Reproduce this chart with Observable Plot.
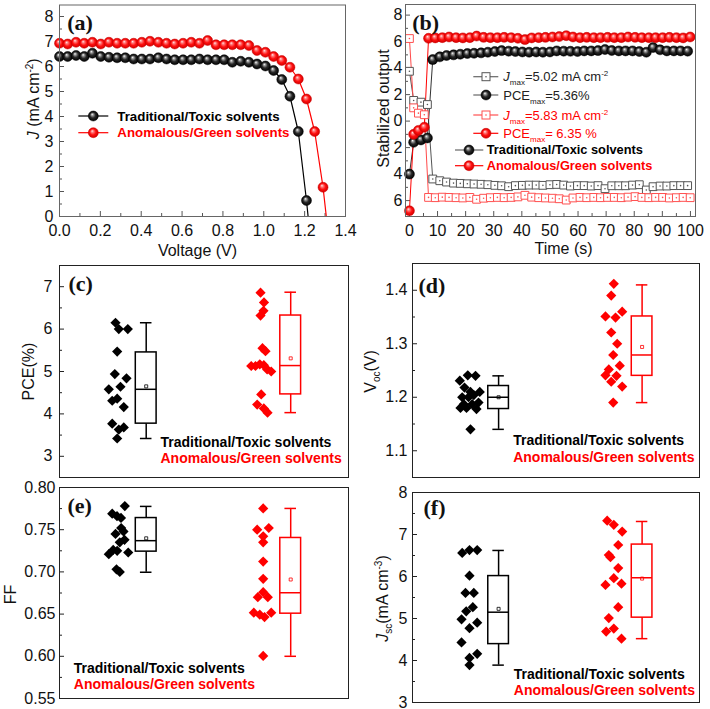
<!DOCTYPE html>
<html><head><meta charset="utf-8">
<script src="https://cdn.jsdelivr.net/npm/d3@7"></script>
<script src="https://cdn.jsdelivr.net/npm/@observablehq/plot@0.6"></script>
<style>
html,body{margin:0;padding:0;background:#fff;}
#chart{position:relative;width:710px;height:709px;overflow:hidden;font-family:'Liberation Sans',Arial,sans-serif;}
.panel{position:absolute;}
</style></head><body>
<svg width="0" height="0" style="position:absolute">
<defs>
<radialGradient id="ballK" cx="0.5" cy="0.5" r="0.5" fx="0.38" fy="0.32">
<stop offset="0" stop-color="#ffffff"/><stop offset="0.22" stop-color="#9a9a9a"/><stop offset="0.55" stop-color="#2a2a2a"/><stop offset="1" stop-color="#000000"/>
</radialGradient>
<radialGradient id="ballR" cx="0.5" cy="0.5" r="0.5" fx="0.38" fy="0.32">
<stop offset="0" stop-color="#ffeaea"/><stop offset="0.25" stop-color="#ff7a7a"/><stop offset="0.6" stop-color="#ff1010"/><stop offset="1" stop-color="#d00000"/>
</radialGradient>
</defs></svg>
<div id="chart"></div>
<script>
// ---------------- shared categories ----------------
const groups = ["Traditional/Toxic solvents", "Anomalous/Green solvents"];
const groupColors = ["#000000", "#ff0000"];
const groupCenter = [1, 3.5];
const boxOffset = 0.5;

// ---------------- (a) J-V curves ----------------
const aVoltage = [0, 0.04, 0.081, 0.121, 0.161, 0.202, 0.242, 0.282, 0.322, 0.363, 0.403, 0.443, 0.484, 0.524, 0.564, 0.605, 0.645, 0.685, 0.725, 0.766, 0.806, 0.846, 0.887, 0.927, 0.967, 1.008, 1.048, 1.088, 1.128, 1.169, 1.209, 1.249, 1.29];
const aJTraditional = [6.4, 6.4, 6.44, 6.4, 6.53, 6.4, 6.37, 6.35, 6.35, 6.3, 6.3, 6.3, 6.35, 6.3, 6.27, 6.27, 6.27, 6.3, 6.27, 6.27, 6.27, 6.17, 6.21, 6.17, 6.1, 6.02, 5.84, 5.48, 4.81, 3.4, 0.64];
const aJGreen = [6.93, 6.9, 6.97, 6.93, 6.97, 6.9, 6.97, 6.93, 6.93, 6.93, 6.97, 7.01, 6.97, 6.93, 6.9, 6.93, 6.97, 6.93, 7.04, 6.87, 6.87, 6.87, 6.87, 6.84, 6.64, 6.57, 6.4, 6.24, 5.97, 5.5, 4.7, 3.4, 1.17];
const aVoc = [1.217, 1.306];
const aXTicks = [0, 0.2, 0.4, 0.6, 0.8, 1.0, 1.2, 1.4];
const aXMinor = [0.1, 0.3, 0.5, 0.7, 0.9, 1.1, 1.3];
const aYTicks = [0, 1, 2, 3, 4, 5, 6, 7, 8];
const aYMinor = [0.5, 1.5, 2.5, 3.5, 4.5, 5.5, 6.5, 7.5];

// ---------------- (b) stabilized output ----------------
const bTimeTraditional = [0, 1.5, 4.1, 6.4, 8.3, 10.8, 13.2, 15.7, 18.1, 20.6, 23.0, 25.5, 27.9, 30.4, 32.8, 35.3, 37.7, 40.2, 42.6, 45.1, 47.5, 50.0, 52.4, 54.9, 57.3, 59.8, 62.2, 64.7, 67.1, 69.6, 72.0, 74.5, 76.9, 79.4, 81.8, 84.3, 86.7, 89.2, 91.6, 94.1, 96.5, 99.0];
const bPceTraditional = [-4.0, -1.6, -1.42, -1.27, 4.64, 4.85, 4.95, 5.0, 5.05, 5.1, 5.12, 5.15, 5.2, 5.25, 5.32, 5.28, 5.25, 5.22, 5.2, 5.22, 5.2, 5.22, 5.3, 5.28, 5.27, 5.25, 5.3, 5.3, 5.32, 5.4, 5.33, 5.3, 5.3, 5.3, 5.25, 5.2, 5.55, 5.38, 5.3, 5.3, 5.3, 5.28];
const bJTraditional = [3.76, 1.56, 1.43, 1.25, -4.37, -4.5, -4.6, -4.68, -4.7, -4.73, -4.75, -4.77, -4.8, -4.85, -4.88, -4.95, -4.87, -4.85, -4.83, -4.83, -4.85, -4.8, -4.78, -4.83, -4.9, -4.87, -4.87, -4.9, -4.87, -5.1, -4.88, -4.88, -4.88, -4.83, -4.8, -5.2, -4.95, -4.9, -4.9, -4.87, -4.87, -4.87];
const bTimeGreen = [0, 1.5, 3.2, 5.3, 6.8, 9.2, 11.7, 14.1, 16.6, 19.0, 21.5, 23.9, 26.4, 28.8, 31.3, 33.7, 36.2, 38.6, 41.1, 43.5, 46.0, 48.4, 50.9, 53.3, 55.8, 58.2, 60.7, 63.1, 65.6, 68.0, 70.5, 72.9, 75.4, 77.8, 80.3, 82.7, 85.2, 87.6, 90.1, 92.5, 95.0, 97.4, 99.9];
const bPceGreen = [-6.77, -1.0, -0.7, -0.46, 6.25, 6.28, 6.3, 6.35, 6.3, 6.28, 6.3, 6.42, 6.32, 6.3, 6.3, 6.32, 6.3, 6.25, 6.15, 6.28, 6.3, 6.32, 6.35, 6.38, 6.45, 6.35, 6.3, 6.32, 6.3, 6.3, 6.32, 6.3, 6.3, 6.35, 6.32, 6.3, 6.3, 6.3, 6.3, 6.32, 6.3, 6.28, 6.35];
const bJGreen = [6.23, 1.0, 0.6, 0.48, -5.76, -5.78, -5.74, -5.76, -5.78, -5.8, -5.76, -5.9, -5.82, -5.78, -5.76, -5.78, -5.76, -5.72, -5.6, -5.74, -5.78, -5.8, -5.82, -5.86, -5.96, -5.8, -5.76, -5.78, -5.76, -5.78, -5.76, -5.76, -5.78, -5.74, -5.7, -5.76, -5.78, -5.76, -5.76, -5.8, -5.78, -5.76, -5.78];
const bJmax = [5.02, 5.83];
const bPCEmax = [5.36, 6.35];
const bXTicks = [0, 10, 20, 30, 40, 50, 60, 70, 80, 90, 100];
const bXMinor = [5, 15, 25, 35, 45, 55, 65, 75, 85, 95];
const bYTicks = [-6, -4, -2, 0, 2, 4, 6, 8];
const bYMinor = [-7, -5, -3, -1, 1, 3, 5, 7];

// ---------------- (c) PCE ----------------
const pceTraditional = [6.15, 6.0, 6.0, 5.47, 4.94, 4.84, 4.58, 4.64, 4.36, 4.31, 4.16, 3.77, 3.63, 3.68, 3.42];
const pceTraditionalX = [0.969, 1.026, 1.182, 0.998, 0.957, 1.159, 0.853, 1.055, 0.998, 0.912, 1.112, 0.912, 1.026, 1.112, 0.998];
const pceGreen = [6.86, 6.63, 6.43, 6.32, 5.55, 5.48, 5.13, 5.13, 5.17, 5.15, 5.05, 5.0, 4.46, 4.22, 4.13, 4.03];
const pceGreenX = [3.478, 3.538, 3.529, 3.478, 3.512, 3.564, 3.317, 3.391, 3.465, 3.535, 3.593, 3.663, 3.49, 3.42, 3.535, 3.599];
const pceMin = [3.42, 4.03], pceQ1 = [3.77, 4.46], pceMedian = [4.58, 5.14], pceQ3 = [5.45, 6.32], pceMax = [6.15, 6.87], pceMean = [4.65, 5.31];

// ---------------- (d) Voc ----------------
const vocTraditional = [1.231, 1.241, 1.24, 1.218, 1.21, 1.204, 1.2, 1.187, 1.187, 1.19, 1.18, 1.18, 1.21, 1.2, 1.178, 1.14];
const vocTraditionalX = [0.824, 0.963, 1.098, 0.906, 1.172, 1.068, 0.866, 0.894, 1.04, 1.15, 0.836, 0.941, 1.01, 0.976, 1.115, 1.01];
const vocGreen = [1.412, 1.39, 1.351, 1.349, 1.36, 1.321, 1.3, 1.279, 1.259, 1.252, 1.241, 1.24, 1.229, 1.22, 1.19];
const vocGreenX = [3.507, 3.462, 3.362, 3.537, 3.653, 3.462, 3.566, 3.497, 3.611, 3.42, 3.362, 3.554, 3.462, 3.653, 3.497];
const vocMin = [1.14, 1.19], vocQ1 = [1.178, 1.24], vocMedian = [1.2, 1.279], vocQ3 = [1.221, 1.351], vocMax = [1.24, 1.41], vocMean = [1.2, 1.294];

// ---------------- (e) FF ----------------
const ffTraditional = [0.778, 0.769, 0.766, 0.764, 0.752, 0.748, 0.745, 0.738, 0.735, 0.726, 0.721, 0.723, 0.725, 0.703, 0.7];
const ffTraditionalX = [1.13, 0.912, 0.995, 1.064, 1.067, 1.107, 0.969, 1.125, 1.043, 0.929, 0.853, 1.189, 0.998, 0.986, 1.043];
const ffGreen = [0.7752, 0.75, 0.752, 0.7421, 0.735, 0.7122, 0.6918, 0.676, 0.67, 0.67, 0.6517, 0.6493, 0.6465, 0.6517, 0.6004];
const ffGreenX = [3.524, 3.42, 3.621, 3.524, 3.524, 3.524, 3.524, 3.524, 3.431, 3.604, 3.362, 3.465, 3.547, 3.663, 3.524];
const ffMin = [0.6996, 0.6], ffQ1 = [0.724, 0.6505], ffMedian = [0.737, 0.6753], ffQ3 = [0.7638, 0.7402], ffMax = [0.7776, 0.7752], ffMean = [0.7398, 0.691];

// ---------------- (f) Jsc ----------------
const jscTraditional = [6.56, 6.63, 6.63, 6.02, 5.61, 5.61, 5.27, 5.17, 4.98, 4.9, 4.77, 4.43, 4.16, 4.06, 3.89];
const jscTraditionalX = [0.866, 0.993, 1.127, 0.993, 0.923, 1.068, 1.051, 0.936, 0.854, 1.127, 0.993, 0.854, 1.127, 0.993, 0.993];
const jscGreen = [7.33, 7.23, 7.07, 6.75, 6.51, 6.46, 6.2, 5.96, 5.8, 5.83, 5.27, 5.01, 4.76, 4.69, 4.52];
const jscGreenX = [3.392, 3.507, 3.653, 3.584, 3.42, 3.449, 3.584, 3.507, 3.362, 3.641, 3.584, 3.42, 3.507, 3.374, 3.641];
const jscMin = [3.89, 4.52], jscQ1 = [4.39, 5.02], jscMedian = [5.15, 5.97], jscQ3 = [6.01, 6.76], jscMax = [6.62, 7.31], jscMean = [5.23, 5.95];

// ---------------- helpers ----------------
const SANS = "'Liberation Sans', Arial, Helvetica, sans-serif";
const SERIF = "'Liberation Serif', 'Times New Roman', serif";
const chart = document.getElementById("chart");
const baseStyle = {fontFamily: SANS, fontSize: "16px", background: "transparent", overflow: "visible", color: "#111"};

function place(node, left, top, w) {
  const d = document.createElement("div");
  d.className = "panel";
  d.style.left = left + "px"; d.style.top = top + "px"; d.style.width = w + "px";
  d.appendChild(node);
  chart.appendChild(d);
}
function inwardTicks(xT, xM, yT, yM, fw, fh, col) {
  const m = [];
  if (xT) m.push(Plot.ruleX(xT, {x: d => d, insetTop: fh - 5, stroke: col}));
  if (xM) m.push(Plot.ruleX(xM, {x: d => d, insetTop: fh - 3, stroke: col}));
  if (yT) m.push(Plot.ruleY(yT, {y: d => d, insetRight: fw - 5, stroke: col}));
  if (yM) m.push(Plot.ruleY(yM, {y: d => d, insetRight: fw - 3, stroke: col}));
  return m;
}
function rich(svg, plain, html) {
  svg.querySelectorAll("text").forEach(t => { if (t.textContent === plain) t.innerHTML = html; });
}
function legendSymbol(g, o) {
  g.append("line").attr("x1", o.x1).attr("x2", o.x2).attr("y1", o.y).attr("y2", o.y)
    .attr("stroke", o.lineColor).attr("stroke-width", 1.2);
  if (o.kind === "ball") {
    g.append("circle").attr("cx", o.cx).attr("cy", o.y).attr("r", 5)
      .attr("fill", o.fill).attr("stroke", o.stroke).attr("stroke-width", 0.5);
  } else {
    g.append("rect").attr("x", o.cx - 4).attr("y", o.y - 4).attr("width", 8).attr("height", 8)
      .attr("fill", "#fff").attr("stroke", o.stroke).attr("stroke-width", 1);
    g.append("circle").attr("cx", o.cx).attr("cy", o.y).attr("r", 0.8).attr("fill", o.stroke);
  }
}
function legendText(g, x, y, html, color, size, bold) {
  g.append("text").attr("x", x).attr("y", y).attr("dy", "0.35em").attr("text-anchor", "start")
    .attr("font-size", size).attr("font-weight", bold ? "bold" : "normal")
    .attr("fill", color).attr("font-family", SANS).html(html);
}

// ---------------- panel (a) ----------------
{
  const W = 360, H = 262, M = {top: 4.5, right: 15, bottom: 46, left: 59};
  const fw = W - M.left - M.right, fh = H - M.top - M.bottom;
  const trad = aJTraditional.map((J, i) => ({V: aVoltage[i], J}));
  const green = aJGreen.map((J, i) => ({V: aVoltage[i], J}));
  const tradLine = trad.concat([{V: aVoc[0], J: 0}]);
  const greenLine = green.concat([{V: aVoc[1], J: 0}]);
  const svg = Plot.plot({
    width: W, height: H, marginTop: M.top, marginRight: M.right, marginBottom: M.bottom, marginLeft: M.left,
    style: baseStyle,
    x: {domain: [0, 1.4], ticks: aXTicks, tickFormat: d3.format(".1f"), tickSize: 0, tickPadding: 8, label: null},
    y: {domain: [0, 8.46], ticks: aYTicks, tickFormat: d3.format("d"), tickSize: 0, tickPadding: 6, label: null},
    marks: [
      ...inwardTicks(aXTicks, aXMinor, aYTicks, aYMinor, fw, fh, "#555"),
      Plot.line(tradLine, {x: "V", y: "J", stroke: "#000", strokeWidth: 1.2}),
      Plot.line(greenLine, {x: "V", y: "J", stroke: "#ff0000", strokeWidth: 1.2}),
      Plot.dot(trad, {x: "V", y: "J", r: 5, fill: "url(#ballK)", stroke: "#000", strokeWidth: 0.5}),
      Plot.dot(green, {x: "V", y: "J", r: 5, fill: "url(#ballR)", stroke: "#d00000", strokeWidth: 0.5}),
      Plot.frame({stroke: "#666"}),
      Plot.text(["(a)"], {text: d => d, frameAnchor: "top-left", dx: 7.7, dy: 18, textAnchor: "start", lineAnchor: "middle", fontFamily: SERIF, fontWeight: "bold", fontSize: 22}),
      Plot.text(["Voltage (V)"], {text: d => d, frameAnchor: "bottom", dx: -5, dy: 34, textAnchor: "middle", lineAnchor: "middle", fontSize: 16}),
      Plot.text(["J (mA cm-2)"], {text: d => d, frameAnchor: "left", rotate: -90, dx: -26, dy: -12, textAnchor: "middle", lineAnchor: "middle", fontSize: 16})
    ]
  });
  rich(svg, "J (mA cm-2)", '<tspan font-style="italic">J</tspan> (mA cm<tspan dy="-6" font-size="10">-2</tspan><tspan dy="6">)</tspan>');
  const g = d3.select(svg).append("g");
  [116, 132.7].forEach((y, i) => {
    legendSymbol(g, {x1: 78.3, x2: 108.3, cx: 93.3, y, lineColor: groupColors[i], kind: "ball",
      fill: i ? "url(#ballR)" : "url(#ballK)", stroke: i ? "#d00000" : "#000"});
    legendText(g, 117.3, y, groups[i], groupColors[i], 13.3, true);
  });
  place(svg, 0, 0, W);
}

// ---------------- panel (b) ----------------
{
  const W = 355, H = 262, M = {top: 4, right: 15, bottom: 46, left: 50};
  const fw = W - M.left - M.right, fh = H - M.top - M.bottom;
  const tradPce = bPceTraditional.map((v, i) => ({t: bTimeTraditional[i], v}));
  const tradJ = bJTraditional.map((v, i) => ({t: bTimeTraditional[i], v}));
  const greenPce = bPceGreen.map((v, i) => ({t: bTimeGreen[i], v}));
  const greenJ = bJGreen.map((v, i) => ({t: bTimeGreen[i], v}));
  const svg = Plot.plot({
    width: W, height: H, marginTop: M.top, marginRight: M.right, marginBottom: M.bottom, marginLeft: M.left,
    style: baseStyle,
    x: {domain: [-1.4, 101.8], ticks: bXTicks, tickFormat: d3.format("d"), tickSize: 0, tickPadding: 8, label: null},
    y: {domain: [-7.2, 8.8], ticks: bYTicks, tickFormat: d => String(Math.abs(d)), tickSize: 0, tickPadding: 3, label: null},
    marks: [
      ...inwardTicks(bXTicks, bXMinor, bYTicks, bYMinor, fw, fh, "#555"),
      Plot.line(tradJ, {x: "t", y: "v", stroke: "#555", strokeWidth: 1}),
      Plot.line(greenJ, {x: "t", y: "v", stroke: "#ff4a4a", strokeWidth: 1}),
      Plot.line(tradPce, {x: "t", y: "v", stroke: "#333", strokeWidth: 1}),
      Plot.line(greenPce, {x: "t", y: "v", stroke: "#ff0000", strokeWidth: 1}),
      Plot.dot(tradJ, {x: "t", y: "v", symbol: "square", r: 4.4, fill: "#fff", stroke: "#555", strokeWidth: 1}),
      Plot.dot(tradJ, {x: "t", y: "v", r: 0.8, fill: "#555"}),
      Plot.dot(greenJ, {x: "t", y: "v", symbol: "square", r: 4.4, fill: "#fff", stroke: "#ff5050", strokeWidth: 1}),
      Plot.dot(greenJ, {x: "t", y: "v", r: 0.8, fill: "#ff5050"}),
      Plot.dot(tradPce, {x: "t", y: "v", r: 5, fill: "url(#ballK)", stroke: "#000", strokeWidth: 0.5}),
      Plot.dot(greenPce, {x: "t", y: "v", r: 5, fill: "url(#ballR)", stroke: "#d00000", strokeWidth: 0.5}),
      Plot.frame({stroke: "#666"}),
      Plot.text(["(b)"], {text: d => d, frameAnchor: "top-left", dx: 6.7, dy: 18, textAnchor: "start", lineAnchor: "middle", fontFamily: SERIF, fontWeight: "bold", fontSize: 22}),
      Plot.text(["Time (s)"], {text: d => d, frameAnchor: "bottom", dx: 13, dy: 32, textAnchor: "middle", lineAnchor: "middle", fontSize: 16}),
      Plot.text(["Stabilized output"], {text: d => d, frameAnchor: "left", rotate: -90, dx: -22, dy: -2, textAnchor: "middle", lineAnchor: "middle", fontSize: 16})
    ]
  });
  const g = d3.select(svg).append("g");
  const L = 355;
  const rows = [
    {y: 76.7, kind: "sq", stroke: "#555", line: "#666", color: "#222", html: `<tspan font-style="italic">J</tspan><tspan dy="4" font-size="8">max</tspan><tspan dy="-4">=${bJmax[0]} mA cm</tspan><tspan dy="-5" font-size="8">-2</tspan>`},
    {y: 95, kind: "ball", fill: "url(#ballK)", stroke: "#000", line: "#666", color: "#222", html: `PCE<tspan dy="4" font-size="8">max</tspan><tspan dy="-4">=${bPCEmax[0]}%</tspan>`},
    {y: 115, kind: "sq", stroke: "#ff5050", line: "#ff5050", color: "#ff0000", html: `<tspan font-style="italic">J</tspan><tspan dy="4" font-size="8">max</tspan><tspan dy="-4">=${bJmax[1]} mA cm</tspan><tspan dy="-5" font-size="8">-2</tspan>`},
    {y: 133.3, kind: "ball", fill: "url(#ballR)", stroke: "#d00000", line: "#ff0000", color: "#ff0000", html: `PCE<tspan dy="4" font-size="8">max</tspan><tspan dy="-4">= ${bPCEmax[1]} %</tspan>`}
  ];
  rows.forEach(r => {
    legendSymbol(g, {x1: 473.3 - L, x2: 498.3 - L, cx: 486 - L, y: r.y, lineColor: r.line, kind: r.kind, fill: r.fill, stroke: r.stroke});
    legendText(g, 503.3 - L, r.y, r.html, r.color, 13, false);
  });
  [150, 165.7].forEach((y, i) => {
    legendSymbol(g, {x1: 455 - L, x2: 483.3 - L, cx: 469 - L, y, lineColor: i ? "#ff0000" : "#666", kind: "ball",
      fill: i ? "url(#ballR)" : "url(#ballK)", stroke: i ? "#d00000" : "#000"});
    legendText(g, 486.7 - L, y, groups[i], groupColors[i], 12.8, true);
  });
  place(svg, 355, 0, W);
}

// ---------------- box panels ----------------
function boxPanel(c) {
  const {W, H, M} = c;
  const fw = W - M.left - M.right, fh = H - M.top - M.bottom;
  const hw = 0.18, cw = 0.1;
  const marks = [...inwardTicks(null, null, c.yTicks, c.yMinor, fw, fh, "#222")];
  groups.forEach((name, g) => {
    const col = groupColors[g];
    const pts = c.vals[g].map((v, i) => ({x: c.xs[g][i], v}));
    const box = [{pos: groupCenter[g] + boxOffset, min: c.min[g], q1: c.q1[g], med: c.med[g], q3: c.q3[g], max: c.max[g], mean: c.mean[g]}];
    marks.push(
      Plot.dot(pts, {x: "x", y: "v", symbol: "diamond2", r: 4.6, fill: col}),
      Plot.ruleX(box, {x: "pos", y1: "q3", y2: "max", stroke: col, strokeWidth: 1.5}),
      Plot.ruleX(box, {x: "pos", y1: "min", y2: "q1", stroke: col, strokeWidth: 1.5}),
      Plot.ruleY(box, {y: "max", x1: d => d.pos - cw, x2: d => d.pos + cw, stroke: col, strokeWidth: 1.5}),
      Plot.ruleY(box, {y: "min", x1: d => d.pos - cw, x2: d => d.pos + cw, stroke: col, strokeWidth: 1.5}),
      Plot.rect(box, {x1: d => d.pos - hw, x2: d => d.pos + hw, y1: "q1", y2: "q3", fill: "none", stroke: col, strokeWidth: 1.5}),
      Plot.ruleY(box, {y: "med", x1: d => d.pos - hw, x2: d => d.pos + hw, stroke: col, strokeWidth: 1.5}),
      Plot.dot(box, {x: "pos", y: "mean", symbol: "square", r: 1.7, fill: "none", stroke: col, strokeWidth: 0.8}),
      Plot.text([name], {text: d => d, frameAnchor: "bottom-left", dx: c.legendDx, dy: c.legendDy[g], textAnchor: "start", lineAnchor: "middle", fontWeight: "bold", fontSize: 14, fill: col})
    );
  });
  marks.push(
    Plot.frame({stroke: "#222"}),
    Plot.text([c.letter], {text: d => d, frameAnchor: "top-left", dx: c.letterDx, dy: c.letterDy, textAnchor: "start", lineAnchor: "middle", fontFamily: SERIF, fontWeight: "bold", fontSize: 22}),
    Plot.text([c.yLabel], {text: d => d, frameAnchor: "left", rotate: -90, dx: c.yLabelDx, dy: c.yLabelDy, textAnchor: "middle", lineAnchor: "middle", fontSize: 16})
  );
  const svg = Plot.plot({
    width: W, height: H, marginTop: M.top, marginRight: M.right, marginBottom: M.bottom, marginLeft: M.left,
    style: baseStyle,
    x: {domain: [0, 5], axis: null},
    y: {domain: c.yDomain, ticks: c.yTicks, tickFormat: c.fmt, tickSize: 0, tickPadding: c.pad, label: null},
    marks
  });
  if (c.richLabel) rich(svg, c.yLabel, c.richLabel);
  place(svg, c.left, c.top, W);
}

boxPanel({
  left: 0, top: 250, W: 355, H: 230, M: {top: 15, right: 7, bottom: 3, left: 59},
  yDomain: [2.5, 7.5], yTicks: [3, 4, 5, 6, 7], yMinor: [3.5, 4.5, 5.5, 6.5], fmt: d3.format("d"), pad: 7,
  vals: [pceTraditional, pceGreen], xs: [pceTraditionalX, pceGreenX],
  min: pceMin, q1: pceQ1, med: pceMedian, q3: pceQ3, max: pceMax, mean: pceMean,
  letter: "(c)", letterDx: 9, letterDy: 18, yLabel: "PCE(%)", yLabelDx: -31, yLabelDy: 0,
  legendDx: 101, legendDy: [-35.3, -18.7]
});
boxPanel({
  left: 355, top: 250, W: 355, H: 230, M: {top: 13, right: 11, bottom: 3, left: 57},
  yDomain: [1.05, 1.45], yTicks: [1.1, 1.2, 1.3, 1.4], yMinor: [1.15, 1.25, 1.35], fmt: d3.format(".1f"), pad: 5,
  vals: [vocTraditional, vocGreen], xs: [vocTraditionalX, vocGreenX],
  min: vocMin, q1: vocQ1, med: vocMedian, q3: vocQ3, max: vocMax, mean: vocMean,
  letter: "(d)", letterDx: 6, letterDy: 22, yLabel: "Voc(V)", yLabelDx: -42, yLabelDy: 1,
  richLabel: 'V<tspan dy="4" font-size="10">oc</tspan><tspan dy="-4">(V)</tspan>',
  legendDx: 100.7, legendDy: [-37, -20.3]
});
boxPanel({
  left: 0, top: 478, W: 355, H: 231, M: {top: 9, right: 7, bottom: 11, left: 59},
  yDomain: [0.55, 0.8], yTicks: [0.55, 0.6, 0.65, 0.7, 0.75, 0.8], yMinor: [0.575, 0.625, 0.675, 0.725, 0.775], fmt: d3.format(".2f"), pad: 4,
  vals: [ffTraditional, ffGreen], xs: [ffTraditionalX, ffGreenX],
  min: ffMin, q1: ffQ1, med: ffMedian, q3: ffQ3, max: ffMax, mean: ffMean,
  letter: "(e)", letterDx: 8, letterDy: 18, yLabel: "FF", yLabelDx: -49, yLabelDy: 1.5,
  legendDx: 14.3, legendDy: [-29.7, -13.7]
});
boxPanel({
  left: 355, top: 478, W: 355, H: 231, M: {top: 14, right: 11, bottom: 7, left: 57},
  yDomain: [3, 8], yTicks: [3, 4, 5, 6, 7, 8], yMinor: [3.5, 4.5, 5.5, 6.5, 7.5], fmt: d3.format("d"), pad: 5,
  vals: [jscTraditional, jscGreen], xs: [jscTraditionalX, jscGreenX],
  min: jscMin, q1: jscQ1, med: jscMedian, q3: jscQ3, max: jscMax, mean: jscMean,
  letter: "(f)", letterDx: 11, letterDy: 15, yLabel: "Jsc(mA cm-3)", yLabelDx: -30, yLabelDy: 1,
  richLabel: '<tspan font-style="italic">J</tspan><tspan dy="4" font-size="10">sc</tspan><tspan dy="-4">(mA cm</tspan><tspan dy="-6" font-size="10">-3</tspan><tspan dy="6">)</tspan>',
  legendDx: 101.3, legendDy: [-27.7, -12]
});
</script>
</body></html>
